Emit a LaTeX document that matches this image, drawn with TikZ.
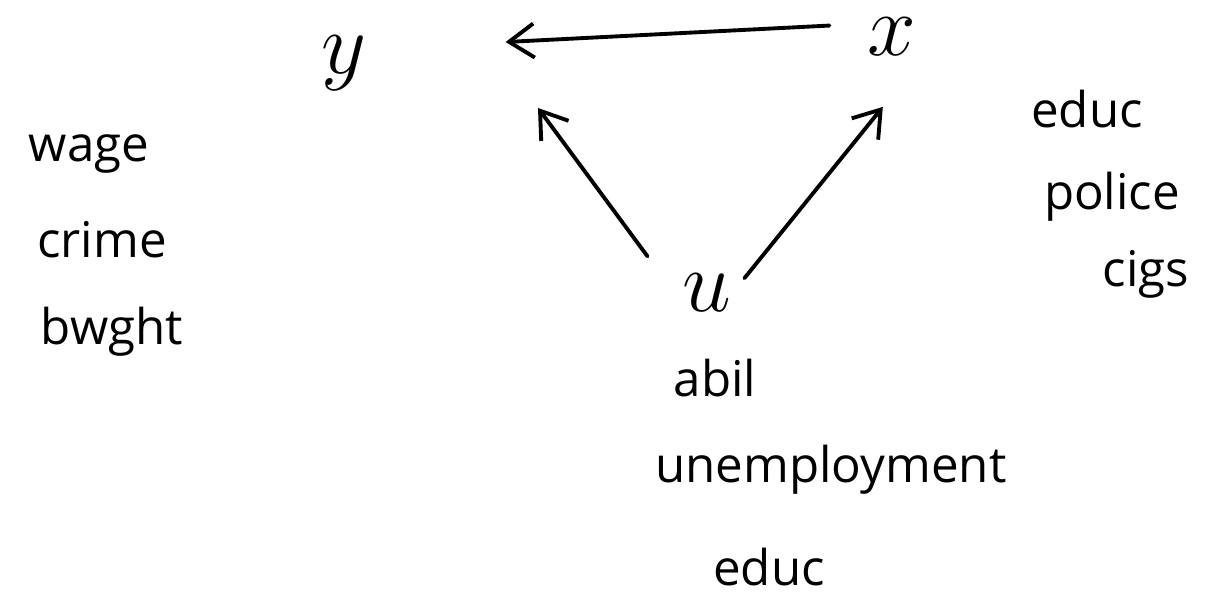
\documentclass[tikz,border=0pt]{standalone}
\usepackage{fontspec}
\setmainfont{Open Sans}
\usetikzlibrary{arrows.meta,positioning,calc}
\tikzset{
  var/.style  = {anchor=base, inner sep=1pt, font=\fontsize{26}{28}\selectfont},
  word/.style = {anchor=base, inner sep=1pt, font=\fontsize{14}{16}\selectfont},
  e/.style    = {-{Straight Barb[length=2.5mm,width=3.4mm]}, line width=1.1pt,
                 line cap=round}
}

\begin{document}
\begin{tikzpicture}[x=0.01cm, y=-0.01cm]
  \useasboundingbox (0,0) rectangle (1220,598);
  % the three variables
  \node[var] (y) at (344,74)  {$y$};
  \node[var] (x) at (892,56)  {$x$};
  \node[var] (u) at (707,312) {$u$};
  % examples of y
  \node[word] (wage)  at (89,162)  {wage};
  \node[word] (crime) at (102,258) {crime};
  \node[word] (bwght) at (112,345) {bwght};
  % examples of x
  \node[word] (educx)  at (1087,128) {educ};
  \node[word] (police) at (1112,210) {police};
  \node[word] (cigs)   at (1146,287) {cigs};
  % examples of u
  \node[word] (abil)  at (715,397) {abil};
  \node[word] (unemp) at (831,483) {unemployment};
  \node[word] (educu) at (769,586) {educ};
  % arrows
  \coordinate (yhead) at (538,108);
  \draw[e, shorten <=0.34cm, shorten >=1.35cm] (x.155) -- (y.29);
  \draw[e, shorten <=0.52cm] (u.190) -- (yhead);
  \draw[e, shorten <=0.14cm, shorten >=0.6cm] (u.8) -- (x.south east);
\end{tikzpicture}
\end{document}
